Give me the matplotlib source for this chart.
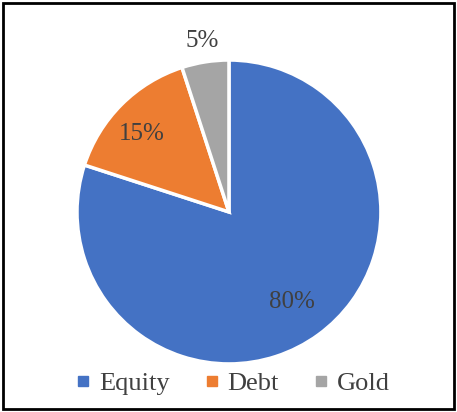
import numpy as np
import matplotlib
matplotlib.use("Agg")
import matplotlib.pyplot as plt
from matplotlib.lines import Line2D
from matplotlib.patches import Rectangle

# asset allocation
categories = ["Equity", "Debt", "Gold"]
shares = [80, 15, 5]
pct_labels = ["80%", "15%", "5%"]
colors = ["#4472C4", "#ED7D31", "#A5A5A5"]

plt.rcParams['font.family'] = ['Liberation Serif', 'DejaVu Serif']
txt_color = "#404040"

fig = plt.figure(figsize=(4.57, 4.12), dpi=100)
ax = fig.add_axes([0.1685, 0.1165, 0.665, 0.738])

wedges, _ = ax.pie(shares, colors=colors, startangle=90, counterclock=False,
                   wedgeprops=dict(edgecolor='white', linewidth=2.5))
ax.set_xlim(-1, 1)
ax.set_ylim(-1, 1)
ax.set_aspect('equal')

# label positions along the mid-angle of each wedge (small angle nudges)
dists = [0.72, 0.77, 1.14]
nudge = [-1, 3, 0]
for w, lab, d, n in zip(wedges, pct_labels, dists, nudge):
    ang = np.deg2rad((w.theta1 + w.theta2) / 2 + n)
    ax.text(d * np.cos(ang), d * np.sin(ang), lab, ha='center', va='center',
            fontsize=18, color=txt_color, clip_on=False)

handles = [Line2D([], [], marker='s', linestyle='none', markersize=7,
                  markerfacecolor=c, markeredgecolor=c) for c in colors]
fig.legend(handles, categories, loc='center', bbox_to_anchor=(0.503, 1 - 383 / 412),
           ncol=3, frameon=False, fontsize=19, handletextpad=0.1,
           columnspacing=1.1, labelcolor=txt_color, handlelength=1.0)

# chart border
fig.patches.append(Rectangle((0.006, 0.008), 0.988, 0.985, transform=fig.transFigure,
                             fill=False, edgecolor='black', linewidth=2))

fig.savefig("out.png", dpi=100)
